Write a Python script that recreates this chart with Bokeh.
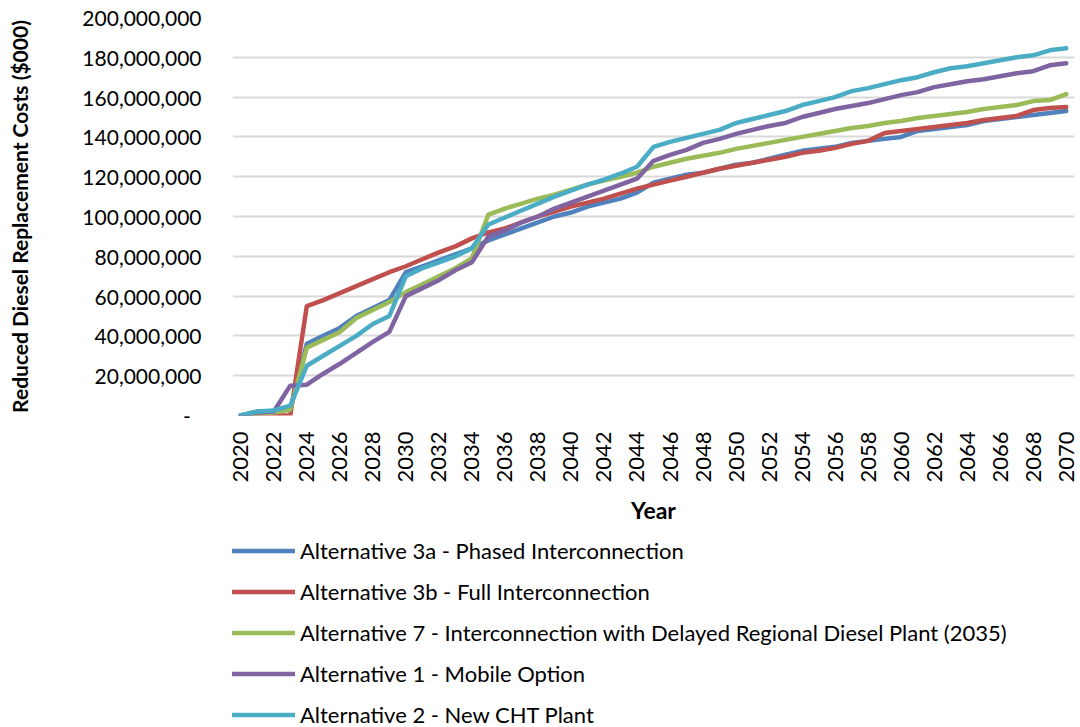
from bokeh.plotting import figure
from bokeh.layouts import column
from bokeh.models import (Range1d, FixedTicker, CustomJSTickFormatter, Legend, LegendItem)
from bokeh.embed import file_html
from bokeh.resources import INLINE
import math

years = list(range(2020, 2071))

alt_3a = [0, 2, 2, 3, 36, 40, 44, 50, 54, 58, 72, 75, 78, 81, 84, 88, 91, 94, 97, 100,
          102, 105, 107, 109, 112, 117, 119, 121, 122, 124, 126, 127, 129, 131, 133, 134,
          135, 137, 138, 139, 140, 143, 144, 145, 146, 148, 149, 150, 151, 152, 153]
alt_3b = [0, 0, 0, 0, 55, 58, 61.5, 65, 68.5, 72, 75, 78.5, 82, 85, 89, 92, 94, 97, 100,
          102.5, 105, 107, 109, 111.5, 114, 116, 118, 120, 122, 124, 125.5, 127, 128.5, 130,
          132, 133, 134.5, 136.5, 138, 142, 143, 144, 145, 146, 147, 148.5, 149.5, 150.5,
          153.5, 154.5, 155]
alt_7 = [0, 1, 1.5, 3, 34, 38, 42, 49, 53, 57, 62, 66, 70, 74, 79, 101, 104, 106.5, 109,
         111, 113.5, 116, 118, 120, 122, 125, 127, 129, 130.5, 132, 134, 135.5, 137, 138.5,
         140, 141.5, 143, 144.5, 145.5, 147, 148, 149.5, 150.5, 151.5, 152.5, 154, 155, 156,
         158, 158.5, 161.5]
alt_1 = [0, 1.5, 2, 15, 15.5, 21, 26, 31.5, 37, 42, 60, 64, 68, 73, 77, 90, 93, 97, 100,
         104, 107, 110, 113, 116, 119, 128, 131, 133.5, 137, 139, 141.5, 143.5, 145.5, 147,
         150, 152, 154, 155.5, 157, 159, 161, 162.5, 165, 166.5, 168, 169, 170.5, 172, 173,
         176, 177]
alt_2 = [0, 2, 2.5, 5, 25, 30, 35, 40, 46, 50, 70, 74, 77, 80, 84, 96, 99.5, 103, 106.5,
         110, 113, 116, 118.5, 121.5, 125, 135, 137.5, 139.5, 141.5, 143.5, 147, 149, 151,
         153, 156, 158, 160, 163, 164.5, 166.5, 168.5, 170, 172.5, 174.5, 175.5, 177, 178.5,
         180, 181, 183.5, 184.5]

series_names = [
    "Alternative 3a - Phased Interconnection",
    "Alternative 3b - Full Interconnection",
    "Alternative 7 - Interconnection with Delayed Regional Diesel Plant (2035)",
    "Alternative 1 - Mobile Option",
    "Alternative 2 - New CHT Plant",
]
series_values = [alt_3a, alt_3b, alt_7, alt_1, alt_2]
colors = ["#4F81BD", "#C0504D", "#9BBB59", "#8064A2", "#4BACC6"]

x_ticks = list(range(2020, 2071, 2))
y_ticks = list(range(0, 200_000_001, 20_000_000))

FONT = "Lato"
LW = 4.5

# ---------------- main chart ----------------
p = figure(frame_width=842, frame_height=398, min_border_left=232, min_border_top=17,
           min_border_bottom=110, min_border_right=6,
           x_range=Range1d(2019.5, 2070.5), y_range=Range1d(0, 200_000_000),
           output_backend="svg", toolbar_location=None)
p.outline_line_color = None
p.background_fill_color = "white"

for name, vals, col in zip(series_names, series_values, colors):
    p.line(years, [v * 1_000_000 for v in vals], line_color=col, line_width=LW,
           line_join="round", line_cap="round")

p.xaxis.ticker = FixedTicker(ticks=x_ticks)
p.xaxis.major_label_orientation = math.pi / 2
p.xaxis.axis_line_color = None
p.xaxis.major_tick_line_color = None
p.xaxis.minor_tick_line_color = None
p.xaxis.major_label_standoff = 10
p.xaxis.major_label_text_font = FONT
p.xaxis.major_label_text_font_size = "22px"
p.xaxis.major_label_text_color = "black"
p.xaxis.axis_label = "Year"
p.xaxis.axis_label_text_font = FONT
p.xaxis.axis_label_text_font_style = "bold"
p.xaxis.axis_label_text_font_size = "23px"
p.xaxis.axis_label_text_color = "black"
p.xaxis.axis_label_standoff = 10

p.yaxis.ticker = FixedTicker(ticks=y_ticks)
p.yaxis.formatter = CustomJSTickFormatter(
    code="return tick == 0 ? '-  ' : tick.toLocaleString('en-US');")
p.yaxis.axis_line_color = None
p.yaxis.major_tick_line_color = None
p.yaxis.minor_tick_line_color = None
p.yaxis.major_label_standoff = 25
p.yaxis.major_label_text_font = FONT
p.yaxis.major_label_text_font_size = "21px"
p.yaxis.major_label_text_color = "black"
p.yaxis.axis_label = "Reduced Diesel Replacement Costs ($000)"
p.yaxis.axis_label_text_font = FONT
p.yaxis.axis_label_text_font_style = "bold"
p.yaxis.axis_label_text_font_size = "21px"
p.yaxis.axis_label_text_color = "black"
p.yaxis.axis_label_standoff = 47

p.xgrid.grid_line_color = None
p.ygrid.grid_line_color = "#D9D9D9"
p.ygrid.grid_line_width = 2

# ---------------- legend panel ----------------
lg = figure(width=1080, height=202, min_border=0, x_axis_type=None, y_axis_type=None,
            x_range=Range1d(2019.5, 2070.5), y_range=Range1d(0, 200_000_000),
            output_backend="svg", toolbar_location=None)
lg.outline_line_color = None
lg.grid.grid_line_color = None
items = []
for name, vals, col in zip(series_names, series_values, colors):
    r = lg.line(years, [v * 1_000_000 for v in vals], line_color=col, line_width=LW,
                line_cap="round")
    r.visible = False
    items.append(LegendItem(label=name, renderers=[r]))

legend = Legend(items=items, location=(0, 0), orientation="vertical",
                glyph_width=63, glyph_height=23, label_height=23, label_standoff=5,
                spacing=14, padding=0, margin=0, click_policy="none",
                border_line_color=None, background_fill_alpha=0,
                label_text_font=FONT, label_text_font_size="22px",
                label_text_color="black")
lg.add_layout(legend, "center")

layout = column(p, lg, spacing=0)
open("out.html", "w").write(file_html(layout, INLINE))
